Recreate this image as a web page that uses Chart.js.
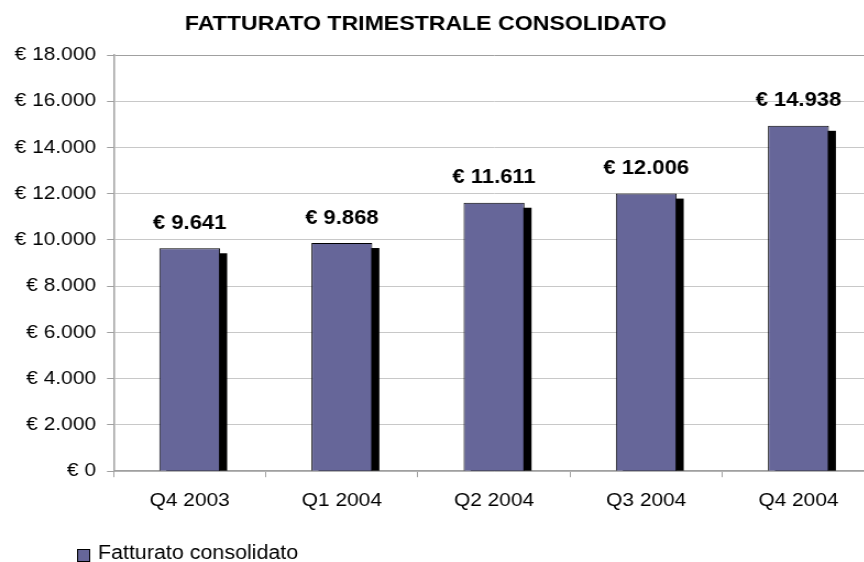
<!DOCTYPE html>
<html>
<head>
<meta charset="utf-8">
<script src="https://cdn.jsdelivr.net/npm/chart.js@4.4.1/dist/chart.umd.min.js"></script>
<style>
  html, body { margin: 0; padding: 0; background: #fff; overflow: hidden; }
  #wrap { width: 820px; height: 562px; transform: scaleX(1.1); transform-origin: 0 0; }
</style>
</head>
<body>
<div id="wrap"><canvas id="fatturatoChart"></canvas></div>
<script>
// dati
const quarters = ['Q4 2003', 'Q1 2004', 'Q2 2004', 'Q3 2004', 'Q4 2004'];
const revenue = [9641, 9868, 11611, 12006, 14938];
const yTicks = [0, 2000, 4000, 6000, 8000, 10000, 12000, 14000, 16000, 18000];
const seriesLabel = 'Fatturato consolidato';
const chartTitle = 'FATTURATO TRIMESTRALE CONSOLIDATO';

const FONT = "'Liberation Sans', Arial, sans-serif";

function euro(v) {
    return '€ ' + String(Math.round(v)).replace(/\B(?=(\d{3})+(?!\d))/g, '.');
}

// ombra nera dietro le barre
const barShadow = {
    id: 'barShadow',
    beforeDatasetsDraw(chart) {
        const ctx = chart.ctx;
        const area = chart.chartArea;
        ctx.save();
        ctx.beginPath();
        ctx.rect(area.left, area.top, area.right - area.left, area.bottom - area.top);
        ctx.clip();
        ctx.fillStyle = '#000';
        chart.getDatasetMeta(0).data.forEach(bar => {
            const w = bar.width;
            ctx.fillRect(bar.x - w / 2 + 6.4, bar.y + 5, w, bar.base - bar.y - 5);
        });
        ctx.restore();
    }
};

// etichette valori sopra le barre
const valueLabels = {
    id: 'valueLabels',
    afterDatasetsDraw(chart) {
        const ctx = chart.ctx;
        ctx.save();
        ctx.font = 'bold 20px ' + FONT;
        ctx.fillStyle = '#000';
        ctx.textAlign = 'center';
        ctx.textBaseline = 'middle';
        chart.getDatasetMeta(0).data.forEach((bar, i) => {
            ctx.fillText(euro(revenue[i]), bar.x, bar.y - 25);
        });
        ctx.restore();
    }
};

// titolo e legenda
const titleAndLegend = {
    id: 'titleAndLegend',
    afterDraw(chart) {
        const ctx = chart.ctx;
        const ds = chart.data.datasets[0];
        ctx.save();
        ctx.font = 'bold 21px ' + FONT;
        ctx.fillStyle = '#000';
        ctx.textAlign = 'center';
        ctx.textBaseline = 'middle';
        ctx.fillText(chartTitle, 387, 24);

        ctx.fillStyle = ds.backgroundColor;
        ctx.strokeStyle = '#000';
        ctx.lineWidth = 1;
        ctx.fillRect(70.5, 549.5, 11, 12);
        ctx.strokeRect(70.5, 549.5, 11, 12);
        ctx.font = '19.5px ' + FONT;
        ctx.fillStyle = '#000';
        ctx.textAlign = 'left';
        ctx.fillText(ds.label, 89, 554);
        ctx.restore();
    }
};

new Chart(document.getElementById('fatturatoChart').getContext('2d'), {
    type: 'bar',
    data: {
        labels: quarters,
        datasets: [{
            label: seriesLabel,
            data: revenue,
            backgroundColor: '#666699',
            borderColor: '#000',
            borderWidth: 1,
            borderSkipped: 'bottom',
            barPercentage: 0.4,
            categoryPercentage: 1
        }]
    },
    options: {
        responsive: true,
        maintainAspectRatio: false,
        animation: false,
        devicePixelRatio: 1,
        layout: { padding: { left: 3.3, right: 25, top: 55, bottom: 38 } },
        plugins: {
            legend: { display: false },
            tooltip: { enabled: false },
            title: { display: false }
        },
        scales: {
            x: {
                offset: true,
                grid: {
                    offset: true,
                    drawOnChartArea: false,
                    drawTicks: true,
                    tickLength: 6,
                    color: '#a0a0a0'
                },
                border: { color: '#a0a0a0', width: 1.5 },
                ticks: {
                    color: '#000',
                    font: { family: FONT, size: 19 },
                    padding: 12
                }
            },
            y: {
                min: 0,
                max: 18000,
                afterBuildTicks(axis) {
                    axis.ticks = yTicks.map(v => ({ value: v }));
                },
                grid: {
                    color: ctx => (ctx.tick && ctx.tick.value === 18000) ? '#a0a0a0' : '#c8c8c8',
                    tickColor: '#a0a0a0',
                    tickLength: 6,
                    lineWidth: 1
                },
                border: { color: '#a0a0a0', width: 1.5 },
                ticks: {
                    color: '#000',
                    font: { family: FONT, size: 19 },
                    padding: 10,
                    callback: v => euro(v)
                }
            }
        }
    },
    plugins: [barShadow, valueLabels, titleAndLegend]
});
</script>
</body>
</html>
